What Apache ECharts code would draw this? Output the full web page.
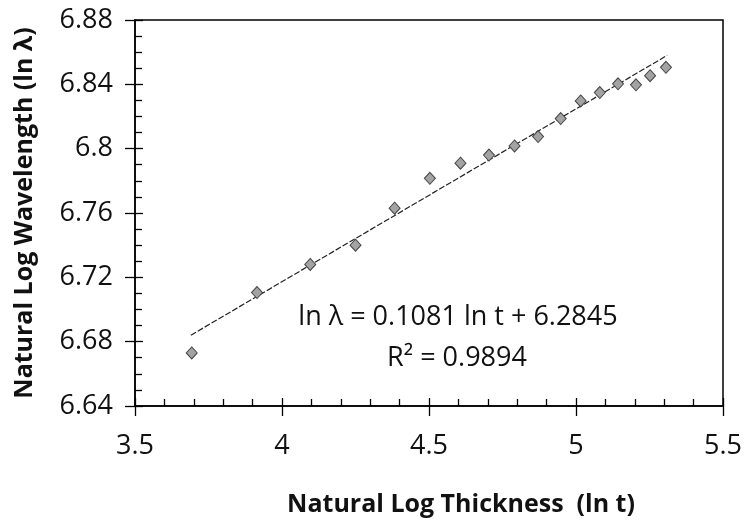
<!DOCTYPE html>
<html>
<head>
<meta charset="utf-8">
<script src="https://cdn.jsdelivr.net/npm/echarts@6/dist/echarts.min.js"></script>
<style>
html,body{margin:0;padding:0;background:#fff;}
#chart{width:746px;height:530px;}
</style>
</head>
<body>
<div id="chart"></div>
<script>
// Natural log thickness (ln t) values
var lnThickness = [3.693, 3.915, 4.096, 4.250, 4.383, 4.503, 4.607, 4.704, 4.791, 4.871, 4.948, 5.016, 5.081, 5.143, 5.204, 5.252, 5.306];
// Natural log wavelength (ln λ) values
var lnWavelength = [6.673, 6.7105, 6.728, 6.740, 6.763, 6.7816, 6.791, 6.796, 6.8017, 6.8075, 6.8187, 6.8297, 6.8349, 6.8403, 6.8397, 6.8454, 6.8506];
// Trend line end points (as drawn)
var trendX = [3.69, 5.31];
var trendY = [6.684, 6.858];
// Axis tick settings
var xTicks = {min: 3.5, max: 5.5, interval: 0.5};
var yTicks = {min: 6.64, max: 6.88, interval: 0.04};
var equationLines = ['ln \u03bb = 0.1081 ln t + 6.2845', 'R\u00b2 = 0.9894'];
var xTitle = 'Natural Log Thickness  (ln t)';
var yTitle = 'Natural Log Wavelength (ln \u03bb)';

var pts = lnThickness.map(function (x, i) { return [x, lnWavelength[i]]; });
var trend = trendX.map(function (x, i) { return [x, trendY[i]]; });

var FONT = '"Open Sans", "Noto Sans", sans-serif';
var chart = echarts.init(document.getElementById('chart'), null, {renderer: 'canvas'});

function fmtY(v) {
  return String(parseFloat(v.toFixed(2)));
}

chart.setOption({
  backgroundColor: '#ffffff',
  animation: false,
  grid: {left: 135, right: 23, top: 20, bottom: 124, show: true, borderColor: '#000', borderWidth: 1.5, backgroundColor: 'transparent'},
  xAxis: [{
    type: 'value', position: 'bottom', min: xTicks.min, max: xTicks.max, interval: xTicks.interval,
    axisLine: {show: true, onZero: false, lineStyle: {color: '#000', width: 1.5}},
    axisTick: {show: true, inside: true, length: 8, lineStyle: {color: '#000', width: 1.3}},
    minorTick: {show: true, splitNumber: 5, length: 7, lineStyle: {color: '#000', width: 1.3}},
    splitLine: {show: false}, minorSplitLine: {show: false},
    axisLabel: {margin: 27, color: '#111', fontFamily: FONT, fontSize: 27, formatter: function (v) { return String(v); }},
    name: xTitle, nameLocation: 'middle', nameGap: 86,
    nameTextStyle: {fontFamily: FONT, fontWeight: 'bold', fontSize: 25, color: '#111', padding: [0, 0, 0, 64]}
  }, {
    type: 'value', position: 'bottom', min: xTicks.min, max: xTicks.max, interval: xTicks.interval,
    axisLine: {show: false, onZero: false},
    axisTick: {show: true, inside: false, length: 10, lineStyle: {color: '#000', width: 1.3}},
    splitLine: {show: false}, axisLabel: {show: false}
  }],
  yAxis: [{
    type: 'value', position: 'left', min: yTicks.min, max: yTicks.max, interval: yTicks.interval,
    axisLine: {show: true, onZero: false, lineStyle: {color: '#000', width: 1.5}},
    axisTick: {show: true, inside: true, length: 8, lineStyle: {color: '#000', width: 1.3}},
    minorTick: {show: true, splitNumber: 4, length: 7, lineStyle: {color: '#000', width: 1.3}},
    splitLine: {show: false}, minorSplitLine: {show: false},
    axisLabel: {margin: 22, color: '#111', fontFamily: FONT, fontSize: 27, formatter: fmtY},
    name: yTitle, nameLocation: 'middle', nameGap: 98,
    nameTextStyle: {fontFamily: FONT, fontWeight: 'bold', fontSize: 25, color: '#111'}
  }, {
    type: 'value', position: 'left', min: yTicks.min, max: yTicks.max, interval: yTicks.interval,
    axisLine: {show: false, onZero: false},
    axisTick: {show: true, inside: false, length: 10, lineStyle: {color: '#000', width: 1.3}},
    splitLine: {show: false}, axisLabel: {show: false}
  }],
  graphic: [{
    type: 'text', x: 458, y: 304, z: 100,
    style: {text: equationLines[0], fontFamily: FONT, fontSize: 27, fill: '#111', textAlign: 'center', textVerticalAlign: 'alphabetic'}
  }, {
    type: 'text', x: 457, y: 345, z: 100,
    style: {text: equationLines[1], fontFamily: FONT, fontSize: 27, fill: '#111', textAlign: 'center', textVerticalAlign: 'alphabetic'}
  }],
  series: [{
    type: 'line', xAxisIndex: 0, yAxisIndex: 0, data: trend, symbol: 'none', silent: true,
    lineStyle: {color: '#222', width: 1.2, type: [6, 2]}, z: 2
  }, {
    type: 'scatter', xAxisIndex: 0, yAxisIndex: 0, data: pts, symbol: 'diamond', symbolSize: [11, 12],
    itemStyle: {color: '#a3a3a3', borderColor: '#454545', borderWidth: 1, opacity: 1}, z: 3
  }]
});
</script>
</body>
</html>
